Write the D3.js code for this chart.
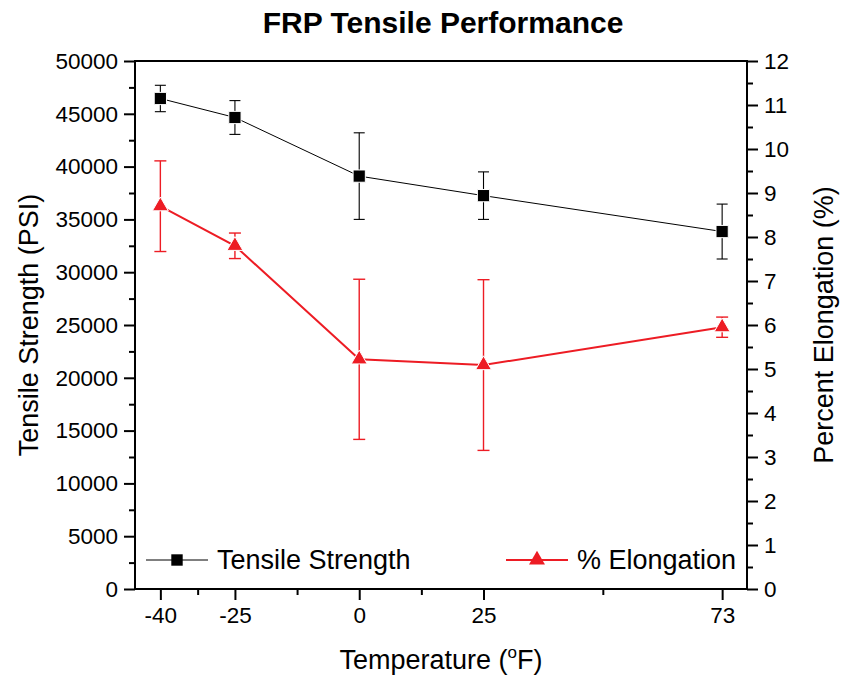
<!DOCTYPE html>
<html>
<head>
<meta charset="utf-8">
<script src="https://cdn.jsdelivr.net/npm/d3@7"></script>
<style>
  body { margin: 0; background: #fff; }
  svg { font-family: "Liberation Sans", Arial, sans-serif; }
</style>
</head>
<body>
<svg id="chart" width="842" height="677"></svg>
<script>
// Data
const temps = [-40, -25, 0, 25, 73];
const strength = [46450, 44650, 39100, 37250, 33850];
const strengthErr = [1250, 1600, 4100, 2250, 2600];
const elongation = [8.70, 7.80, 5.22, 5.09, 5.95];
const elongationErr = [1.03, 0.29, 1.82, 1.94, 0.23];

const strengthTicks = d3.range(0, 50001, 5000);
const elongTicks = d3.range(0, 13, 1);

const RED = '#ed1c24';
const margin = { left: 135, right: 95, top: 61, bottom: 88 };
const WIDTH = 842, HEIGHT = 677;
const TICK_FONT = 22.5;
const LABEL_FONT = 27;

const svg = d3.select('#chart');

const x = d3.scaleLinear()
    .domain([-45.1, 78])
    .range([margin.left, WIDTH - margin.right]);
const yL = d3.scaleLinear()
    .domain([0, 50000])
    .range([HEIGHT - margin.bottom, margin.top]);
const yR = d3.scaleLinear()
    .domain([0, 12])
    .range([HEIGHT - margin.bottom, margin.top]);

const x0 = x.range()[0], x1 = x.range()[1];
const yb = yL.range()[0], yt = yL.range()[1];

// minor ticks: half way between the majors
const xMinor = temps.slice(1).map((t, i) => (t + temps[i]) / 2);
const yLMinor = strengthTicks.slice(1).map(v => v - 2500);
const yRMinor = elongTicks.slice(1).map(v => v - 0.5);

function styleAxis(g) {
    g.select('.domain').remove();
    g.selectAll('line').attr('stroke', '#000').attr('stroke-width', 2);
    g.selectAll('text')
        .attr('fill', '#000')
        .style('font-size', TICK_FONT + 'px')
        .style('font-family', '"Liberation Sans", Arial, sans-serif');
}

const plain = d => String(d);   // hyphen minus like the original, not U+2212

// left axis
svg.append('g')
    .attr('transform', `translate(${x0},0)`)
    .call(d3.axisLeft(yL).tickValues(yLMinor).tickSize(6).tickFormat(''))
    .call(styleAxis);
svg.append('g')
    .attr('transform', `translate(${x0},0)`)
    .call(d3.axisLeft(yL).tickValues(strengthTicks).tickSize(11).tickPadding(6).tickFormat(plain))
    .call(styleAxis);

// right axis
svg.append('g')
    .attr('transform', `translate(${x1},0)`)
    .call(d3.axisRight(yR).tickValues(yRMinor).tickSize(6).tickFormat(''))
    .call(styleAxis);
svg.append('g')
    .attr('transform', `translate(${x1},0)`)
    .call(d3.axisRight(yR).tickValues(elongTicks).tickSize(11).tickPadding(6).tickFormat(plain))
    .call(styleAxis);

// bottom axis
svg.append('g')
    .attr('transform', `translate(0,${yb})`)
    .call(d3.axisBottom(x).tickValues(xMinor).tickSize(6).tickFormat(''))
    .call(styleAxis);
svg.append('g')
    .attr('transform', `translate(0,${yb})`)
    .call(d3.axisBottom(x).tickValues(temps).tickSize(11).tickPadding(7).tickFormat(plain))
    .call(styleAxis);

// frame
svg.append('rect')
    .attr('x', x0).attr('y', yt)
    .attr('width', x1 - x0).attr('height', yb - yt)
    .attr('fill', 'none').attr('stroke', '#000').attr('stroke-width', 2);

const plot = svg.append('g');

function drawSeries(vals, errs, yScale, color, lineW, errW, symbol, symSize, capW) {
    const pts = temps.map((t, i) => ({ t, v: vals[i], e: errs[i] }));
    const eb = plot.append('g').attr('stroke', color).attr('stroke-width', errW);
    eb.selectAll('line.v').data(pts).enter().append('line')
        .attr('x1', d => x(d.t)).attr('x2', d => x(d.t))
        .attr('y1', d => yScale(d.v + d.e)).attr('y2', d => yScale(d.v - d.e));
    eb.selectAll('line.top').data(pts).enter().append('line')
        .attr('x1', d => x(d.t) - capW / 2).attr('x2', d => x(d.t) + capW / 2)
        .attr('y1', d => yScale(d.v + d.e)).attr('y2', d => yScale(d.v + d.e));
    eb.selectAll('line.bot').data(pts).enter().append('line')
        .attr('x1', d => x(d.t) - capW / 2).attr('x2', d => x(d.t) + capW / 2)
        .attr('y1', d => yScale(d.v - d.e)).attr('y2', d => yScale(d.v - d.e));

    plot.append('path')
        .datum(pts)
        .attr('fill', 'none')
        .attr('stroke', color)
        .attr('stroke-width', lineW)
        .attr('d', d3.line().x(d => x(d.t)).y(d => yScale(d.v)));

    plot.selectAll(null).data(pts).enter().append('path')
        .attr('transform', d => `translate(${x(d.t)},${yScale(d.v)})`)
        .attr('d', d3.symbol(symbol, symSize))
        .attr('fill', color)
        .attr('stroke', '#fff')
        .attr('stroke-width', 1);
}

drawSeries(strength, strengthErr, yL, '#000', 1, 1.1, d3.symbolSquare, 150, 11);
drawSeries(elongation, elongationErr, yR, RED, 2, 1.4, d3.symbolTriangle, 110, 12);

// legend
const legend = svg.append('g').style('font-size', LABEL_FONT + 'px');
function legendItem(lx, ly, color, lineW, symbol, symSize, label) {
    legend.append('line')
        .attr('x1', lx).attr('x2', lx + 62)
        .attr('y1', ly).attr('y2', ly)
        .attr('stroke', color).attr('stroke-width', lineW);
    legend.append('path')
        .attr('transform', `translate(${lx + 31},${ly})`)
        .attr('d', d3.symbol(symbol, symSize))
        .attr('fill', color);
    legend.append('text')
        .attr('x', lx + 71).attr('y', ly + 9)
        .text(label);
}
legendItem(146, 560, '#000', 1, d3.symbolSquare, 130, 'Tensile Strength');
legendItem(506, 560, RED, 2, d3.symbolTriangle, 110, '% Elongation');

// title
svg.append('text')
    .attr('x', 443).attr('y', 33)
    .attr('text-anchor', 'middle')
    .style('font-size', '30px')
    .style('font-weight', 'bold')
    .text('FRP Tensile Performance');

// axis titles
const xt = svg.append('text')
    .attr('x', (x0 + x1) / 2).attr('y', 669)
    .attr('text-anchor', 'middle')
    .style('font-size', LABEL_FONT + 'px');
xt.append('tspan').text('Temperature (');
xt.append('tspan').attr('dy', -11).style('font-size', '17px').text('o');
xt.append('tspan').attr('dy', 11).text('F)');

svg.append('text')
    .attr('transform', `translate(38,${(yt + yb) / 2}) rotate(-90)`)
    .attr('text-anchor', 'middle')
    .style('font-size', LABEL_FONT + 'px')
    .text('Tensile Strength (PSI)');

svg.append('text')
    .attr('transform', `translate(833,${(yt + yb) / 2}) rotate(-90)`)
    .attr('text-anchor', 'middle')
    .style('font-size', LABEL_FONT + 'px')
    .text('Percent Elongation (%)');
</script>
</body>
</html>
